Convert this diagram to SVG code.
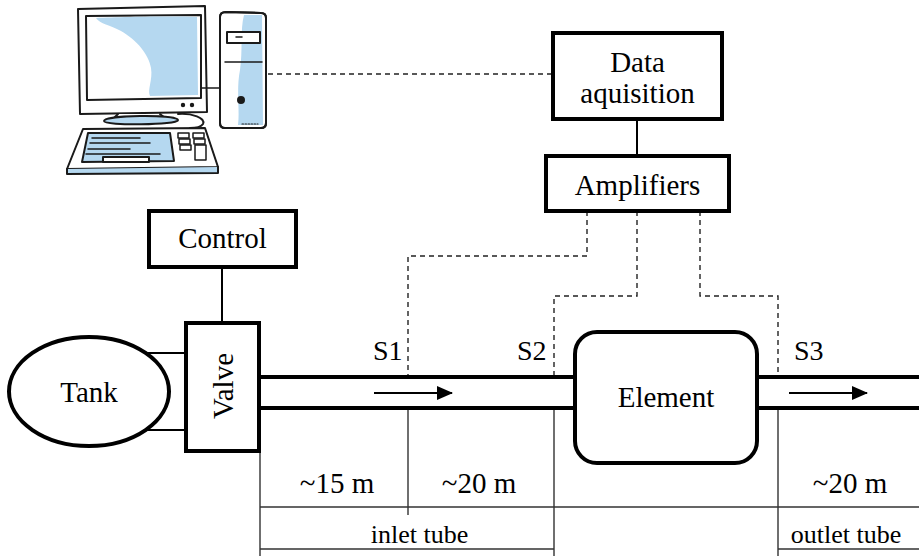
<svg xmlns="http://www.w3.org/2000/svg" width="919" height="556" viewBox="0 0 919 556">
  <style>
    .box { fill: #fff; stroke: #000; stroke-width: 4; }
    text { font-family: 'Liberation Serif', 'Times New Roman', 'DejaVu Serif', serif; font-size: 29px; fill: #000; }
    .small { font-size: 26px; }
    .sens { font-size: 28px; }
    .mid { text-anchor: middle; }
    .thin { stroke: #000; stroke-width: 2; fill: none; }
    .dash { stroke: #222; stroke-width: 1.4; fill: none; stroke-dasharray: 5 4; }
    .grid { stroke: #333; stroke-width: 1.4; fill: none; }
    .pipe { stroke: #000; stroke-width: 4; fill: none; }
    .flow { stroke: #000; stroke-width: 2; fill: none; }
    .ink { stroke: #1a1a1a; stroke-width: 2; stroke-linejoin: round; stroke-linecap: round; }
  </style>
  <defs>
    <marker id="arrowhead" viewBox="0 0 16 14" refX="15" refY="7" markerWidth="16" markerHeight="14" markerUnits="userSpaceOnUse" orient="auto">
      <path d="M0,0 L16,7 L0,14 Z" fill="#000"/>
    </marker>
  </defs>

  <rect width="919" height="556" fill="#fff"/>

  <!-- desktop computer sketch -->
  <g id="computer" class="ink">
    <!-- monitor -->
    <path d="M78,9 L205,6 L207,112 L80,114 Z" fill="#fff"/>
    <path d="M86,16 L201,15 L201,98 L87,100 Z" fill="#fff"/>
    <path d="M96,18 C120,17 175,16 197,17 L198,95 L150,96 C147,90 153,80 151,68 C149,55 137,40 121,31 C110,25 100,24 96,18 Z" fill="#b5d8f0" stroke="none"/>
    <circle cx="183" cy="105" r="1.2" fill="#1a1a1a"/>
    <circle cx="192" cy="105" r="1.2" fill="#1a1a1a"/>
    <!-- stand -->
    <path d="M118,114 L114,118 L165,118 L160,114" fill="#fff"/>
    <path d="M104,121 C104,115 176,114 178,120 C179,125 104,126 104,121 Z" fill="#b5d8f0"/>
    <path d="M178,114 C192,113 206,118 203,124 C201,127 196,128 190,128" fill="none"/>
    <!-- keyboard -->
    <path d="M83,129 L205,128 L218,167 L67,169 Z" fill="#fff"/>
    <path d="M67,169 L67,174 L218,173 L218,167" fill="#b5d8f0"/>
    <path d="M88,133 L170,133 L174,161 L82,162 Z" fill="#b5d8f0"/>
    <path d="M92,138 L140,138 M90,143 L150,143 M88,149 L130,149 M86,154 L160,154" fill="none" stroke-width="1.5"/>
    <rect x="103" y="157" width="46" height="5" fill="#fff"/>
    <rect x="178" y="133" width="11" height="5" fill="#fff" stroke-width="1.5"/>
    <rect x="179" y="139" width="11" height="5" fill="#fff" stroke-width="1.5"/>
    <rect x="180" y="145" width="11" height="5" fill="#fff" stroke-width="1.5"/>
    <rect x="193" y="133" width="11" height="5" fill="#fff" stroke-width="1.5"/>
    <rect x="194" y="139" width="11" height="5" fill="#fff" stroke-width="1.5"/>
    <rect x="195" y="145" width="11" height="15" fill="#fff" stroke-width="1.5"/>
    <!-- cable to tower -->
    <path d="M202,88 L220,88" fill="none" stroke-width="1.5"/>
    <!-- tower -->
    <path d="M220,17 C220,13 222,12 226,12 L261,13 C265,13 266,15 266,18 L266,123 C266,127 264,128 261,128 L225,128 C222,128 220,126 220,123 Z" fill="#fff"/>
    <path d="M244,15 L262,15 L263,125 L238,125 C240,110 236,90 240,70 C243,50 240,30 244,15 Z" fill="#b5d8f0" stroke="none"/>
    <path d="M220,17 C220,13 222,12 226,12 L261,13 C265,13 266,15 266,18 L266,123 C266,127 264,128 261,128 L225,128 C222,128 220,126 220,123 Z" fill="none"/>
    <rect x="227" y="32" width="33" height="11" fill="#fff"/>
    <path d="M236,37 L242,37 M225,62 L262,62" fill="none" stroke-width="1.5"/>
    <circle cx="241" cy="100" r="3" fill="#1a1a1a"/>
    <path d="M242,124 L258,124" fill="none" stroke-width="1.2" stroke-dasharray="1.5 1.5"/>
  </g>

  <!-- connectors -->
  <g id="connectors">
    <path class="dash" d="M268,74 L553,74"/>
    <path class="thin" d="M637,119 L637,156"/>
    <path class="thin" d="M222,267 L222,323"/>
    <path class="thin" d="M147,353 L186,353 M147,430 L186,430"/>
    <path class="dash" d="M587,211 L587,256 L408,256 L408,377"/>
    <path class="dash" d="M637,211 L637,296 L554,296 L554,377"/>
    <path class="dash" d="M700,211 L700,296 L778,296 L778,377"/>
    <!-- pipes -->
    <path class="pipe" d="M259,377 L575,377 M259,408 L575,408"/>
    <path class="pipe" d="M757,377 L919,377 M757,408 L919,408"/>
    <!-- flow arrows -->
    <path class="flow" d="M374,393 L452,393" marker-end="url(#arrowhead)"/>
    <path class="flow" d="M789,393 L867,393" marker-end="url(#arrowhead)"/>
    <!-- distance table -->
    <path class="grid" d="M260,451 L260,556 M408,410 L408,515 M554,410 L554,556 M778,410 L778,556"/>
    <path class="grid" d="M260,507 L919,507 M260,549 L554,549 M778,549 L919,549"/>
  </g>

  <g id="data-acquisition">
    <rect class="box" x="553" y="33" width="169" height="86"/>
    <text class="mid" x="637.5" y="72">Data</text>
    <text class="mid" x="637.5" y="103">aquisition</text>
  </g>

  <g id="amplifiers">
    <rect class="box" x="546" y="156" width="183" height="55"/>
    <text class="mid" x="637.5" y="195">Amplifiers</text>
  </g>

  <g id="control">
    <rect class="box" x="149" y="211" width="147" height="56"/>
    <text class="mid" x="222.5" y="248">Control</text>
  </g>

  <g id="valve">
    <rect class="box" x="186" y="323" width="73" height="128"/>
    <text class="mid" transform="translate(233,386) rotate(-90)">Valve</text>
  </g>

  <g id="tank">
    <ellipse class="box" cx="89" cy="391.5" rx="80" ry="54.5"/>
    <text class="mid" x="89" y="402">Tank</text>
  </g>

  <g id="element">
    <rect class="box" x="575" y="332" width="182" height="131" rx="22" ry="22"/>
    <text class="mid" x="666" y="407">Element</text>
  </g>

  <g id="sensors">
    <text class="sens" x="373" y="360">S1</text>
    <text class="sens" x="517" y="360">S2</text>
    <text class="sens" x="794" y="360">S3</text>
  </g>

  <g id="distances">
    <text class="mid" x="337" y="493">~15 m</text>
    <text class="mid" x="479" y="493">~20 m</text>
    <text class="mid" x="850" y="493">~20 m</text>
    <text class="small mid" x="419.5" y="543">inlet tube</text>
    <text class="small mid" x="846" y="543">outlet tube</text>
  </g>
</svg>
